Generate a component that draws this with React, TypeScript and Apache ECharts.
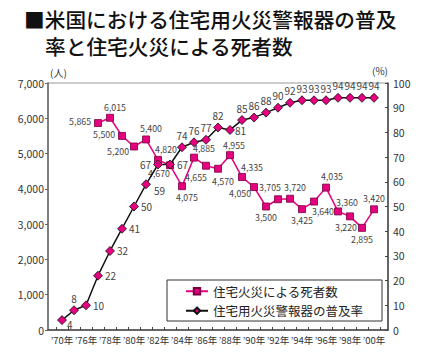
import React, { useEffect, useRef } from "react";
import * as echarts from "echarts";

const categories = ["’70年", "’75年", "’76年", "’77年", "’78年", "’79年", "’80年", "’81年", "’82年", "’83年", "’84年", "’85年", "’86年", "’87年", "’88年", "’89年", "’90年", "’91年", "’92年", "’93年", "’94年", "’95年", "’96年", "’97年", "’98年", "’99年", "’00年"];
const deaths: (number | null)[] = [null, null, null, 5865, 6015, 5500, 5200, 5400, 4820, 4670, 4075, 4885, 4655, 4570, 4955, 4335, 4050, 3500, 3705, 3720, 3425, 3640, 4035, 3360, 3220, 2895, 3420];
const alarmRate = [4, 8, 10, 22, 32, 41, 50, 59, 67, 67, 74, 76, 77, 82, 81, 85, 86, 88, 90, 92, 93, 93, 93, 94, 94, 94, 94];
const seriesNames = ["住宅火災による死者数", "住宅用火災警報器の普及率"];
const titleLines = ["■米国における住宅用火災警報器の普及", "率と住宅火災による死者数"];

// label placement (position, dx, dy) per point — styling, kept apart from data
const deathLabelPlace: [string, number, number][] = [
  ["top", 0, 0], ["top", 0, 0], ["top", 0, 0],
  ["left", 0, -2], ["top", 5, 1], ["left", 0, -1], ["left", 2, 5], ["top", 5, 0],
  ["top", 8, 1], ["bottom", -11, -3], ["bottom", 5, 0], ["top", 10, 2], ["bottom", -10, 0],
  ["bottom", 5, 1], ["top", 4, 2], ["top", 10, 2], ["left", 4, 6], ["bottom", 0, 0],
  ["top", -8, 0], ["top", 5, 0], ["bottom", 0, 0], ["bottom", 9, -1], ["top", 6, 0],
  ["top", 9, 2], ["bottom", -4, 0], ["bottom", 0, 0], ["top", 0, 0],
];
const alarmLabelPlace: [string, number, number][] = [
  ["right", -2, 4], ["top", 0, 0], ["right", 0, 0], ["right", 0, 0], ["right", 0, 0],
  ["right", 0, 0], ["right", 0, 0], ["right", 1, 6], ["left", 0, 0], ["right", 0, 0],
  ["top", 0, 0], ["top", 0, 0], ["top", 0, 0], ["top", 0, 0], ["right", -2, 1],
  ["top", 0, 0], ["top", 0, 0], ["top", 0, 0], ["top", 0, 0], ["top", 0, 0],
  ["top", 0, 0], ["top", 0, 0], ["top", 0, 0], ["top", 0, 0], ["top", 0, 0],
  ["top", 0, 0], ["top", 0, 0],
];

const NUM = "'Noto Sans CJK JP', sans-serif";
const CJK = "'Noto Sans CJK JP', sans-serif";
const MAGENTA = "#e4007f";

const comma = (v: number) => String(v).replace(/\B(?=(\d{3})+(?!\d))/g, ",");

export default function App() {
  const ref = useRef<HTMLDivElement>(null);
  useEffect(() => {
    if (!ref.current) return;
    const chart = echarts.init(ref.current, undefined, { renderer: "svg" });
    const option: any = {
      animation: false,
      backgroundColor: "#fff",
      textStyle: { fontFamily: NUM },
      graphic: [
        { type: "text", left: 24, top: 9, style: { text: titleLines[0], fontSize: 20.7, fontFamily: CJK, fontWeight: 500, fill: "#111" } },
        { type: "text", left: 45, top: 36, style: { text: titleLines[1], fontSize: 20.7, fontFamily: CJK, fontWeight: 500, fill: "#111" } },
        { type: "text", left: 50, top: 67, style: { text: "(人)", fontSize: 10, fontFamily: CJK, fill: "#333" } },
        { type: "text", left: 372, top: 65, style: { text: "(%)", fontSize: 10, fontFamily: NUM, fill: "#333" } },
      ],
      grid: [
        { left: 48, right: 37, top: 83, bottom: 27, show: true, borderColor: "#999", borderWidth: 1 },
        { left: 56, right: 45, top: 83, bottom: 27 },
      ],
      legend: {
        data: seriesNames,
        orient: "vertical",
        left: 167,
        top: 280,
        itemWidth: 22,
        itemHeight: 8,
        itemGap: 7,
        padding: [5, 19, 4, 18],
        borderColor: "#333",
        borderWidth: 1,
        backgroundColor: "#fff",
        textStyle: { fontSize: 12.5, color: "#222", fontFamily: CJK },
      },
      xAxis: [
        {
          gridIndex: 0, type: "value", min: 0, max: 1,
          axisLine: { show: true, lineStyle: { color: "#444", width: 1.5 } },
          axisTick: { show: false }, axisLabel: { show: false }, splitLine: { show: false },
        },
        {
          gridIndex: 1, type: "category", data: categories, boundaryGap: true,
          axisLine: { show: false },
          axisTick: { show: true, inside: true, length: 3, interval: 0, lineStyle: { color: "#444" } },
          axisLabel: { interval: 1, showMinLabel: true, showMaxLabel: true, hideOverlap: false, fontSize: 9.5, color: "#333", margin: 5, fontFamily: NUM },
        },
      ],
      yAxis: [
        {
          gridIndex: 0, type: "value", position: "left", min: 0, max: 7000, interval: 1000,
          axisLine: { show: true, lineStyle: { color: "#666", width: 1.5 } },
          axisTick: { show: true, length: 3, lineStyle: { color: "#666" } },
          axisLabel: { formatter: (v: number) => comma(v), fontSize: 10.5, color: "#333", margin: 4, fontFamily: NUM },
          splitLine: { show: false },
        },
        {
          gridIndex: 0, type: "value", position: "right", min: 0, max: 100, interval: 10,
          axisLine: { show: true, lineStyle: { color: "#444", width: 1.5 } },
          axisTick: { show: true, inside: true, length: 3, lineStyle: { color: "#444" } },
          axisLabel: { fontSize: 10.5, color: "#333", margin: 5, fontFamily: NUM },
          splitLine: { show: false },
        },
        { gridIndex: 1, type: "value", min: 0, max: 7000, show: false },
        { gridIndex: 1, type: "value", min: 0, max: 100, show: false },
      ],
      series: [
        {
          name: seriesNames[0], type: "line", xAxisIndex: 1, yAxisIndex: 2,
          symbol: "rect", symbolSize: 7, showAllSymbol: true,
          lineStyle: { color: MAGENTA, width: 1.5 },
          itemStyle: { color: MAGENTA, borderColor: "#7a0040", borderWidth: 0.8 },
          data: deaths.map((v, i) =>
            v == null ? null : { value: v, label: { position: deathLabelPlace[i][0] } }
          ),
          label: {
            show: true, fontSize: 8.8, color: "#444", fontFamily: NUM, distance: 3,
            formatter: (p: any) => comma(p.value),
          },
          labelLayout: (p: any) => ({
            dx: deathLabelPlace[p.dataIndex][1],
            dy: deathLabelPlace[p.dataIndex][2],
            hideOverlap: false,
          }),
          z: 3,
        },
        {
          name: seriesNames[1], type: "line", xAxisIndex: 1, yAxisIndex: 3,
          symbol: "diamond", symbolSize: 9, showAllSymbol: true,
          lineStyle: { color: "#111", width: 1.5 },
          itemStyle: { color: MAGENTA, borderColor: "#111", borderWidth: 0.8 },
          data: alarmRate.map((v, i) => ({ value: v, label: { position: alarmLabelPlace[i][0] } })),
          label: { show: true, fontSize: 10, color: "#444", fontFamily: NUM, distance: 2 },
          labelLayout: (p: any) => ({
            dx: alarmLabelPlace[p.dataIndex][1],
            dy: alarmLabelPlace[p.dataIndex][2],
            hideOverlap: false,
          }),
          z: 4,
        },
      ],
    };
    chart.setOption(option);
    return () => chart.dispose();
  }, []);
  return <div ref={ref} style={{ position: "fixed", left: 0, top: 0, width: 425, height: 357 }} />;
}
